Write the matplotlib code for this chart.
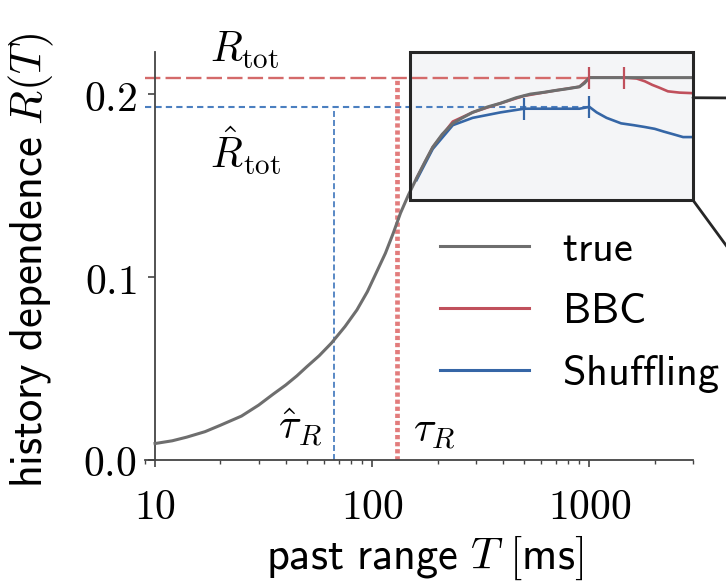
import matplotlib
matplotlib.use("Agg")
import matplotlib.pyplot as plt
from matplotlib.patches import Rectangle
from matplotlib.lines import Line2D

plt.rcParams['mathtext.fontset'] = 'cm'
plt.rcParams['font.family'] = ['DejaVu Sans']

# ---------------- data ----------------
T_true = [10, 12, 14, 17, 20, 25, 30, 35, 40, 45, 50, 57, 65, 75, 85, 95, 105, 115, 125, 135, 147, 160, 175,
          190, 210, 235, 260, 290, 340, 390, 460, 535, 620, 700, 800, 900, 950, 1000, 1500, 2000, 3000]
R_true = [0.009, 0.0105, 0.0125, 0.0155, 0.019, 0.024, 0.030, 0.036, 0.041, 0.046, 0.051, 0.057, 0.064, 0.073,
          0.082, 0.092, 0.103, 0.113, 0.124, 0.135, 0.145, 0.154, 0.163, 0.171, 0.178, 0.184, 0.187, 0.190,
          0.193, 0.195, 0.198, 0.200, 0.201, 0.202, 0.203, 0.204, 0.206, 0.209, 0.209, 0.209, 0.209]

T_bbc = [160, 190, 235, 290, 390, 500, 700, 900, 1000, 1200, 1450, 1650, 1800, 1950, 2100, 2300, 2600, 3000]
R_bbc = [0.154, 0.171, 0.185, 0.190, 0.195, 0.199, 0.202, 0.204, 0.209, 0.209, 0.209, 0.2085, 0.207, 0.205,
         0.2035, 0.2015, 0.2008, 0.2005]

T_shuf = [160, 190, 235, 290, 390, 500, 700, 900, 1000, 1080, 1200, 1400, 1600, 1800, 2000, 2200, 2440, 2700,
          3000]
R_shuf = [0.153, 0.170, 0.183, 0.187, 0.190, 0.192, 0.192, 0.192, 0.193, 0.190, 0.187, 0.184, 0.183, 0.182,
          0.181, 0.1795, 0.178, 0.1765, 0.1765]

T_err_bbc = [1000, 1450]
R_err_bbc = [0.209, 0.209]
T_err_shuf = [500, 1000]
R_err_shuf = [0.192, 0.193]
err_size = 0.006

R_tot = 0.209
R_tot_hat = 0.193
tau_R = 130
tau_R_hat = 67
T_D = 1000

box_T = [150, 3000]
box_R = [0.142, 0.223]

x_ticks = [10, 100, 1000]
x_ticklabels = ['$10$', '$100$', '$1000$']
y_ticks = [0.0, 0.1, 0.2]
y_ticklabels = ['$0.0$', '$0.1$', '$0.2$']

labels = ['true', 'BBC', 'Shuffling']

# ---------------- style ----------------
c_true = '#6e6e6e'
c_red = '#c0505c'
c_blue = '#3566a6'
c_red_l = '#d46a6a'
c_blue_l = '#4b7fc0'
fs = 30
fs_lab = 32
fs_leg = 30.5

W, H = 726, 584
fig = plt.figure(figsize=(W / 100, H / 100), dpi=100)
ax = fig.add_axes([145 / W, 1 - 460 / H, 548 / W, 408 / H])
ax.set_xscale('log')
ax.set_xlim(8.99, 3000)
ax.set_ylim(0, 0.223)

# inset indicator box
ax.add_patch(Rectangle((box_T[0], box_R[0]), box_T[1] - box_T[0], box_R[1] - box_R[0],
                       facecolor='#f4f5f7', edgecolor='none', zorder=0.5))
ax.add_patch(Rectangle((box_T[0], box_R[0]), box_T[1] - box_T[0], box_R[1] - box_R[0],
                       facecolor='none', edgecolor='#262626', lw=2.2, zorder=6, clip_on=False))

# reference lines
ax.plot([8.99, T_D], [R_tot, R_tot], color=c_red_l, lw=1.7, dashes=(6.5, 2.2), zorder=2)
ax.plot([8.99, T_D], [R_tot_hat, R_tot_hat], color=c_blue_l, lw=1.5, dashes=(3, 2), zorder=2)
ax.plot([tau_R, tau_R], [0, R_tot], color='#e27c7c', lw=3.4, dashes=(0.9, 0.6), zorder=2)
ax.plot([tau_R_hat, tau_R_hat], [0, R_tot_hat], color=c_blue_l, lw=1.3, dashes=(3.3, 1.7), zorder=2)

# curves
ax.plot(T_bbc, R_bbc, color=c_red, lw=1.9, zorder=3)
ax.plot(T_shuf, R_shuf, color=c_blue, lw=1.9, zorder=3)
ax.plot(T_true, R_true, color=c_true, lw=2.2, zorder=4)
ax.errorbar(T_err_bbc, R_err_bbc, yerr=err_size, fmt='none', ecolor=c_red, elinewidth=1.6, capsize=0, zorder=5)
ax.errorbar(T_err_shuf, R_err_shuf, yerr=err_size, fmt='none', ecolor=c_blue, elinewidth=1.6, capsize=0, zorder=5)

# legend
handles = [Line2D([], [], color=c_true, lw=2.2),
           Line2D([], [], color=c_red, lw=2.2),
           Line2D([], [], color=c_blue, lw=2.2)]
leg_labels = [r'$\mathsf{%s}$' % s for s in labels]
ax.legend(handles, leg_labels, loc='upper left', bbox_to_anchor=((440 - 145) / 548, (460 - 228) / 408),
          frameon=False, fontsize=fs_leg, handlelength=2.1, handletextpad=0.78, labelspacing=0.47,
          borderpad=0, borderaxespad=0)

# annotations
ax.text(17.9, 0.2175, r'$R_{\mathrm{tot}}$', fontsize=fs, ha='left', va='baseline')
ax.text(17.9, 0.1596, r'$\hat{R}_{\mathrm{tot}}$', fontsize=fs, ha='left', va='baseline')
ax.text(59, 0.011, r'$\hat{\tau}_R$', fontsize=fs, ha='right', va='baseline')
ax.text(154, 0.0095, r'$\tau_R$', fontsize=fs, ha='left', va='baseline')

# axes styling
for s in ['top', 'right']:
    ax.spines[s].set_visible(False)
ax.spines['left'].set_position(('data', 10))
for s in ['left', 'bottom']:
    ax.spines[s].set_color('#444444')
    ax.spines[s].set_linewidth(1.3)
ax.set_xticks(x_ticks)
ax.set_xticklabels(x_ticklabels)
ax.set_yticks(y_ticks)
ax.set_yticklabels(y_ticklabels)
ax.tick_params(axis='both', which='major', direction='out', length=5, width=1.2, color='#444444',
               labelsize=fs)
ax.tick_params(axis='x', which='major', pad=14)
ax.tick_params(axis='y', which='major', pad=8)
ax.tick_params(axis='x', which='minor', direction='out', length=3, width=1.0, color='#444444')
ax.set_xlabel(r'$\mathsf{past\ range}\ T\ \mathsf{[ms]}$', fontsize=fs_lab)
ax.set_ylabel(r'$\mathsf{history\ dependence}\ R(T)$', fontsize=fs_lab)
ax.xaxis.set_label_coords(0.51, -0.18)
ax.yaxis.set_label_coords(-0.163, 0.49)

# connectors to the (cropped) zoom panel
ax.annotate('', xy=(1.02, 1 - 98 / H), xycoords='figure fraction', xytext=(box_T[1], 0.198),
            textcoords='data', arrowprops=dict(arrowstyle='-', color='#262626', lw=2.0,
                                                shrinkA=0, shrinkB=0))
ax.annotate('', xy=(1.0 + 2 / W, 1 - 248 / H), xycoords='figure fraction', xytext=(box_T[1], box_R[0]),
            textcoords='data', arrowprops=dict(arrowstyle='-', color='#262626', lw=2.0,
                                                shrinkA=0, shrinkB=0))

fig.savefig('out.png', dpi=100)
